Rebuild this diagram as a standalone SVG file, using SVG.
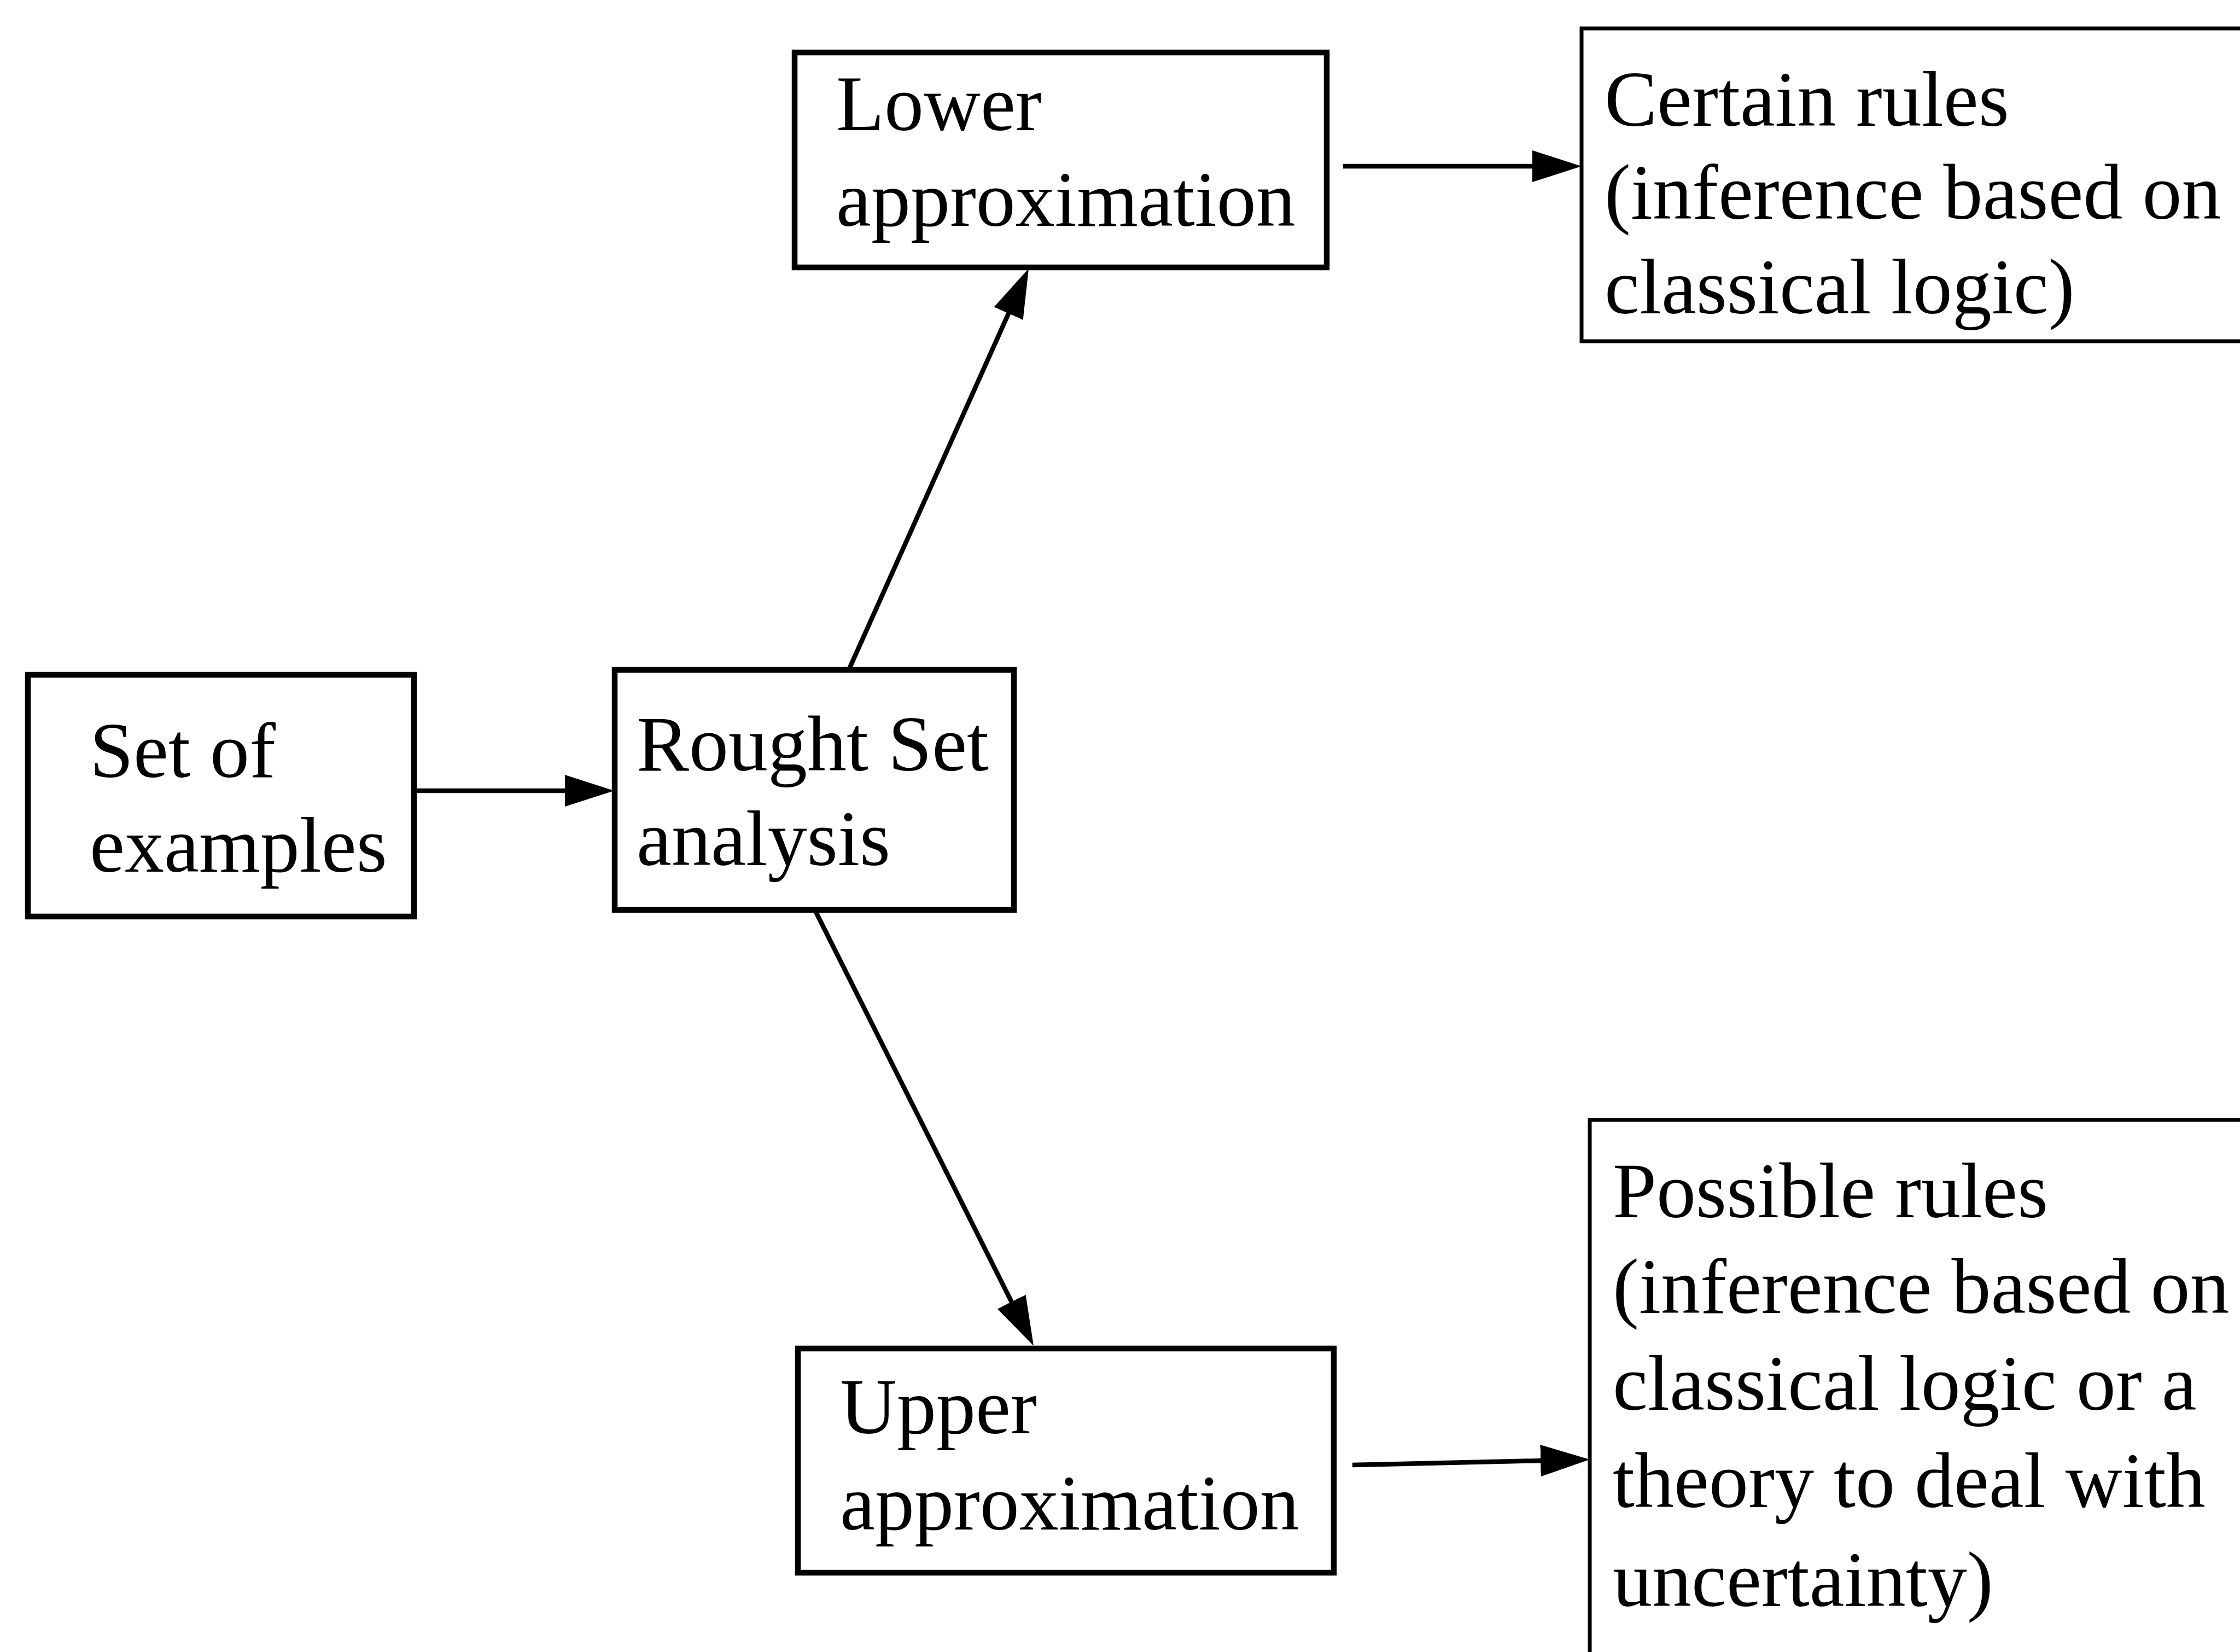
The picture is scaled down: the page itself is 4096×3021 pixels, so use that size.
<svg xmlns="http://www.w3.org/2000/svg" width="4096" height="3021" viewBox="0 0 4096 3021">
  <style>
    .box { fill: #ffffff; stroke: #000000; stroke-width: 10.5; }
    .box-thin { fill: #ffffff; stroke: #000000; stroke-width: 7; }
    .label { font-family: "Liberation Serif", "Times New Roman", serif; font-size: 144px; fill: #000000; }
    .edge { fill: none; stroke: #000000; stroke-width: 8.5; marker-end: url(#head); }
  </style>
  <defs>
    <marker id="head" markerUnits="userSpaceOnUse" markerWidth="90" markerHeight="58" viewBox="0 0 90 58" refX="70" refY="29" orient="auto">
      <path d="M0,0 L90,29 L0,58 Z" fill="#000000"/>
    </marker>
  </defs>
  <rect width="4096" height="3021" fill="#ffffff"/>

  <g id="node-set-of-examples">
    <rect class="box" x="51" y="1234" width="706" height="442"/>
    <text class="label" x="164" y="1421">Set of</text>
    <text class="label" x="164" y="1594">examples</text>
  </g>

  <g id="node-rought-set">
    <rect class="box" x="1124" y="1225" width="730" height="439"/>
    <text class="label" x="1164" y="1409">Rought Set</text>
    <text class="label" x="1164" y="1582">analysis</text>
  </g>

  <g id="node-lower">
    <rect class="box" x="1453" y="96" width="973" height="393"/>
    <text class="label" x="1529" y="238">Lower</text>
    <text class="label" x="1529" y="413">approximation</text>
  </g>

  <g id="node-upper">
    <rect class="box" x="1459" y="2466" width="980" height="410"/>
    <text class="label" x="1536" y="2621">Upper</text>
    <text class="label" x="1536" y="2797">approximation</text>
  </g>

  <g id="node-certain-rules">
    <rect class="box-thin" x="2892" y="52" width="1260" height="572"/>
    <text class="label" x="2934" y="230">Certain rules</text>
    <text class="label" x="2934" y="400">(inference based on</text>
    <text class="label" x="2934" y="573">classical logic)</text>
  </g>

  <g id="node-possible-rules">
    <rect class="box-thin" x="2907" y="2048" width="1260" height="1100"/>
    <text class="label" x="2949" y="2226">Possible rules</text>
    <text class="label" x="2949" y="2401">(inference based on</text>
    <text class="label" x="2949" y="2578">classical logic or a</text>
    <text class="label" x="2949" y="2756">theory to deal with</text>
    <text class="label" x="2949" y="2937">uncertainty)</text>
  </g>

  <g id="connectors">
    <path class="edge" d="M757,1446 L1103,1446"/>
    <path class="edge" d="M1552,1225 L1872.8,509.3"/>
    <path class="edge" d="M1490,1664 L1881,2443.1"/>
    <path class="edge" d="M2456,304 L2872,304"/>
    <path class="edge" d="M2473,2679 L2887,2669.5"/>
  </g>
</svg>
